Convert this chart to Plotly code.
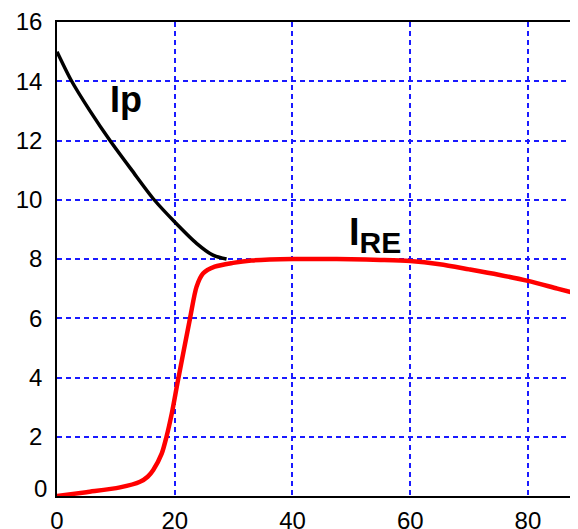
import plotly.graph_objects as go

# Ip (black) curve
ip_x = [0, 2.5, 5.6, 9, 12.7, 16.5, 20, 23.7, 26.5, 28.8]
ip_y = [15.0, 14.0, 13.0, 12.0, 11.0, 10.0, 9.25, 8.53, 8.13, 8.0]

# IRE (red) curve
re_x = [0, 5, 10.7, 14.1, 15.4, 16.35, 17.8, 18.6, 19.5, 20.5, 22.6, 23.7, 24.8, 26.8, 29.9, 33,
        40, 45, 50, 55, 60, 65, 70, 75, 80, 85, 88.5]
re_y = [0.0, 0.13, 0.29, 0.48, 0.65, 0.88, 1.44, 2.0, 2.79, 3.85, 6.0, 7.06, 7.51, 7.74, 7.87, 7.95,
        8.0, 8.0, 7.99, 7.97, 7.93, 7.82, 7.65, 7.47, 7.26, 7.0, 6.82]

x_ticks = [0, 20, 40, 60, 80]
y_ticks = [0, 2, 4, 6, 8, 10, 12, 14, 16]

FONT = "Liberation Sans, Arial, sans-serif"

fig = go.Figure()
fig.add_trace(go.Scatter(x=ip_x, y=ip_y, mode="lines",
                         line=dict(color="black", width=3.5, shape="spline", smoothing=0.8),
                         showlegend=False))
fig.add_trace(go.Scatter(x=re_x, y=re_y, mode="lines",
                         line=dict(color="#ff0000", width=4.5, shape="spline", smoothing=0.8),
                         showlegend=False))

grid = dict(showgrid=True, gridcolor="#1a1aff", gridwidth=1.5, griddash="5px,4px")

# page body has an 8px margin, so the figure is sized to end at the window edge
fig.update_layout(
    width=570, height=521,
    margin=dict(l=49, r=0, t=14, b=33),
    paper_bgcolor="white", plot_bgcolor="white",
    font=dict(family=FONT, size=24, color="black"),
    xaxis=dict(range=[0, 88.5], tickvals=x_ticks, ticktext=[str(v) for v in x_ticks],
               showline=True, linecolor="black", linewidth=1.5, mirror=True,
               zeroline=False, ticks="", ticklabelstandoff=2, automargin=False,
               ticklabeloverflow="allow", **grid),
    yaxis=dict(range=[0, 16], tickvals=y_ticks,
               ticktext=["" if v == 0 else str(v) for v in y_ticks],
               showline=True, linecolor="black", linewidth=1.5, mirror=False,
               zeroline=False, ticks="", ticklabelstandoff=8, automargin=False,
               ticklabeloverflow="allow", **grid),
    annotations=[
        dict(x=0, y=0, xref="x", yref="y", text="0", showarrow=False, xanchor="right",
             yanchor="middle", xshift=-8, yshift=8, font=dict(size=24, family=FONT)),
        dict(x=11.7, y=13.4, xref="x", yref="y", text="<b>Ip</b>", showarrow=False,
             font=dict(size=36, family=FONT)),
        dict(x=54, y=8.8, xref="x", yref="y",
             text="<b>I<sub><span style='font-size:30px'>RE</span></sub></b>", showarrow=False,
             font=dict(size=38, family=FONT)),
    ],
)

fig.write_html("out.html")
